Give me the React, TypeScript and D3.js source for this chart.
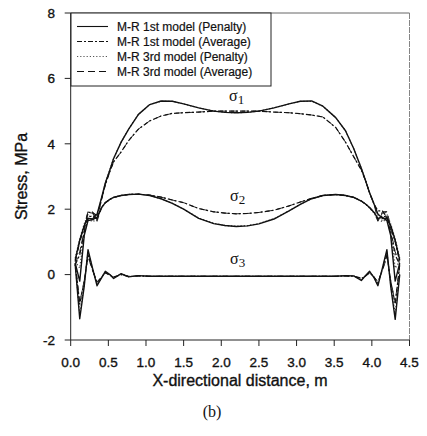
import React from 'react';
import * as d3 from 'd3';

// node positions along the section (m)
const xs = [0.06, 0.12, 0.18, 0.23, 0.29, 0.35, 0.41, 0.46, 0.52, 0.57, 0.67, 0.77, 0.9, 1.05, 1.2, 1.35, 1.5, 1.7, 1.9, 2.05, 2.2,
  2.35, 2.5, 2.7, 2.9, 3.05, 3.2, 3.35, 3.52, 3.65, 3.76, 3.86, 3.92, 3.97, 4.03, 4.08, 4.14, 4.2, 4.25, 4.31, 4.37];

// sigma 1
const s1Pen1 = [0.45, 1.05, 1.5, 1.72, 1.7, 1.85, 2.35, 2.8, 3.2, 3.55, 4.05, 4.45, 4.9, 5.2, 5.31, 5.3, 5.22, 5.1, 5.0, 4.96, 4.95,
  4.96, 5.0, 5.1, 5.22, 5.3, 5.31, 5.15, 4.8, 4.4, 3.85, 3.25, 2.85, 2.5, 2.15, 1.85, 1.72, 1.72, 1.5, 1.05, 0.45];
const s1Avg1 = [0.4, 1.0, 1.45, 1.9, 1.9, 1.8, 2.3, 2.75, 3.15, 3.45, 3.75, 4.1, 4.45, 4.7, 4.85, 4.93, 4.95, 4.97, 5.0, 5.0, 5.0,
  5.0, 5.0, 4.97, 4.95, 4.92, 4.88, 4.82, 4.5, 4.05, 3.6, 3.2, 2.85, 2.5, 2.15, 1.95, 1.95, 1.75, 1.45, 1.0, 0.4];
const s1Pen3 = [0.5, 1.1, 1.55, 1.85, 1.65, 1.82, 2.33, 2.8, 3.2, 3.55, 4.05, 4.45, 4.9, 5.2, 5.3, 5.3, 5.22, 5.1, 5.0, 4.96, 4.95,
  4.96, 5.0, 5.1, 5.22, 5.3, 5.3, 5.15, 4.8, 4.4, 3.85, 3.25, 2.85, 2.5, 2.15, 1.82, 1.65, 1.85, 1.55, 1.1, 0.5];
const s1Avg3 = [0.42, 1.02, 1.5, 1.93, 1.92, 1.65, 2.3, 2.75, 3.15, 3.45, 3.75, 4.1, 4.45, 4.7, 4.85, 4.93, 4.95, 4.97, 5.0, 5.0, 5.0,
  5.0, 5.0, 4.97, 4.95, 4.92, 4.88, 4.82, 4.5, 4.05, 3.6, 3.2, 2.85, 2.5, 2.15, 1.65, 1.92, 1.93, 1.5, 1.02, 0.42];

// sigma 2
const s2Pen1 = [0.35, -0.2, 1.2, 1.65, 1.68, 1.75, 2.05, 2.2, 2.3, 2.36, 2.42, 2.45, 2.46, 2.42, 2.32, 2.18, 2.0, 1.72, 1.56, 1.5, 1.47,
  1.49, 1.55, 1.7, 1.95, 2.15, 2.32, 2.42, 2.45, 2.42, 2.36, 2.25, 2.15, 2.05, 1.9, 1.72, 1.75, 1.65, 1.2, -0.2, 0.35];
const s2Avg1 = [0.3, 0.6, 1.3, 1.75, 1.8, 1.7, 2.05, 2.2, 2.3, 2.36, 2.42, 2.45, 2.46, 2.43, 2.37, 2.28, 2.2, 2.02, 1.92, 1.88, 1.86,
  1.87, 1.9, 1.97, 2.1, 2.22, 2.33, 2.42, 2.45, 2.42, 2.36, 2.25, 2.15, 2.05, 1.9, 1.7, 1.8, 1.75, 1.3, 0.6, 0.3];
const s2Pen3 = [0.4, 0.2, 1.25, 1.7, 1.62, 1.68, 2.03, 2.2, 2.3, 2.36, 2.42, 2.45, 2.46, 2.42, 2.32, 2.18, 2.0, 1.73, 1.57, 1.5, 1.48,
  1.5, 1.56, 1.71, 1.95, 2.15, 2.32, 2.42, 2.45, 2.42, 2.36, 2.25, 2.15, 2.03, 1.88, 1.68, 1.62, 1.7, 1.25, 0.2, 0.4];
const s2Avg3 = [0.32, 0.7, 1.35, 1.9, 1.88, 1.63, 2.05, 2.2, 2.3, 2.36, 2.42, 2.45, 2.46, 2.43, 2.37, 2.28, 2.2, 2.02, 1.92, 1.88, 1.86,
  1.87, 1.9, 1.97, 2.1, 2.22, 2.33, 2.42, 2.45, 2.42, 2.36, 2.25, 2.15, 2.05, 1.9, 1.63, 1.88, 1.9, 1.35, 0.7, 0.32];

// sigma 3
const s3Pen1 = [0.3, -1.35, -0.35, 0.76, 0.2, -0.34, -0.1, 0.1, 0.0, -0.12, 0.03, -0.07, -0.03, -0.05, -0.05, -0.05, -0.05, -0.05, -0.05, -0.05, -0.05,
  -0.05, -0.05, -0.05, -0.05, -0.05, -0.05, -0.05, -0.05, -0.03, -0.04, -0.18, -0.02, 0.1, -0.1, -0.34, 0.2, 0.76, -0.35, -1.37, 0.0];
const s3Avg1 = [0.35, -0.9, -0.2, 0.6, 0.15, -0.25, -0.08, 0.06, -0.02, -0.08, 0.0, -0.06, -0.04, -0.05, -0.05, -0.05, -0.05, -0.05, -0.05, -0.05, -0.05,
  -0.05, -0.05, -0.05, -0.05, -0.05, -0.05, -0.05, -0.05, -0.04, -0.05, -0.12, -0.04, 0.06, -0.08, -0.25, 0.15, 0.6, -0.2, -0.9, 0.3];
const s3Pen3 = [0.3, -1.2, -0.3, 0.7, 0.18, -0.3, -0.08, 0.08, 0.0, -0.1, 0.02, -0.06, -0.04, -0.05, -0.05, -0.05, -0.05, -0.05, -0.05, -0.05, -0.05,
  -0.05, -0.05, -0.05, -0.05, -0.05, -0.05, -0.05, -0.05, -0.04, -0.05, -0.15, -0.03, 0.08, -0.08, -0.3, 0.18, 0.7, -0.3, -1.2, 0.05];
const s3Avg3 = [0.33, -0.85, -0.18, 0.55, 0.12, -0.22, -0.07, 0.05, -0.02, -0.07, 0.0, -0.05, -0.04, -0.05, -0.05, -0.05, -0.05, -0.05, -0.05, -0.05, -0.05,
  -0.05, -0.05, -0.05, -0.05, -0.05, -0.05, -0.05, -0.05, -0.04, -0.05, -0.1, -0.04, 0.05, -0.07, -0.22, 0.12, 0.55, -0.18, -0.85, 0.28];

const modelNames = ['M-R 1st model (Penalty)', 'M-R 1st model (Average)', 'M-R 3rd model (Penalty)', 'M-R 3rd model (Average)'];
const modelDash = [null, '5,2,2,2', '1.2,2', '7,4'];
const modelSeries = [
  [s1Pen1, s2Pen1, s3Pen1],
  [s1Avg1, s2Avg1, s3Avg1],
  [s1Pen3, s2Pen3, s3Pen3],
  [s1Avg3, s2Avg3, s3Avg3],
];
// draw the 3rd-model curves underneath the 1st-model ones
const drawOrder = [3, 2, 1, 0];

const xTicks = [0, 0.5, 1.0, 1.5, 2.0, 2.5, 3.0, 3.5, 4.0, 4.5];
const yTicks = [-2, 0, 2, 4, 6, 8];

const W = 427;
const H = 436;
const sans = '"Liberation Sans", Arial, sans-serif';
const serif = '"Liberation Serif", "Times New Roman", serif';
// scanned text looks a bit heavy
const heavy = { stroke: '#111', strokeWidth: 0.35 };

export default function App() {
  const x = d3.scaleLinear().domain([0, 4.5]).range([70.7, 409.5]);
  const y = d3.scaleLinear().domain([-2, 8]).range([340, 13]);

  const line = d3.line<number>()
    .x((_, i) => x(xs[i]))
    .y(d => y(d));

  const [x0, x1] = x.range();
  const [y0, y1] = y.range();

  const lg = { x: 71, y: 13, w: 200, h: 73 };

  return (
    <svg width={W} height={H} style={{ position: 'absolute', left: 0, top: 0, background: '#fff' }}>
      {/* frame */}
      <line x1={x0} x2={x1} y1={y1} y2={y1} stroke="#555" strokeWidth={0.9} />
      <line x1={x1} x2={x1} y1={y1} y2={y0} stroke="#777" strokeWidth={0.9} strokeDasharray="6,1" />
      <line x1={x0} x2={x0} y1={y1} y2={y0} stroke="#222" strokeWidth={1} />
      <line x1={x0} x2={x1} y1={y0} y2={y0} stroke="#222" strokeWidth={1} />

      {/* y axis ticks */}
      {yTicks.map(t => (
        <g key={`y${t}`}>
          <line x1={x0 - 6} x2={x0} y1={y(t)} y2={y(t)} stroke="#222" strokeWidth={1} />
          <text x={55} y={y(t)} dy="0.35em" textAnchor="end" fontFamily={sans} fontSize={13.5} fill="#111" {...heavy}>{t}</text>
        </g>
      ))}
      {/* x axis ticks */}
      {xTicks.map(t => (
        <g key={`x${t}`}>
          <line x1={x(t)} x2={x(t)} y1={y0} y2={y0 + 6} stroke="#222" strokeWidth={1} />
          <text x={x(t)} y={362} dy="0.35em" textAnchor="middle" fontFamily={sans} fontSize={13.5} fill="#111" {...heavy}>{t.toFixed(1)}</text>
        </g>
      ))}

      {/* curves */}
      {drawOrder.map(m => modelSeries[m].map((vals, k) => (
        <path key={`${m}-${k}`} d={line(vals) || ''} fill="none"
          stroke={m === 2 ? '#444' : '#111'} strokeWidth={m === 0 ? 1.4 : m === 3 ? 0.9 : 1.2}
          strokeDasharray={modelDash[m] || undefined} strokeLinejoin="round" />
      )))}

      {/* curve labels */}
      <text x={229} y={101} fontFamily={serif} fontSize={16} fill="#111">σ<tspan fontSize={13} dy={3}>1</tspan></text>
      <text x={230} y={201} fontFamily={serif} fontSize={16} fill="#111">σ<tspan fontSize={13} dy={3}>2</tspan></text>
      <text x={230} y={264} fontFamily={serif} fontSize={16} fill="#111">σ<tspan fontSize={13} dy={3}>3</tspan></text>

      {/* legend */}
      <rect x={lg.x} y={lg.y} width={lg.w} height={lg.h} fill="#fff" stroke="#222" strokeWidth={1} />
      {modelNames.map((name, i) => {
        const ly = 26.5 + i * 15;
        return (
          <g key={name}>
            <line x1={77} x2={108} y1={ly} y2={ly} stroke={i === 2 ? '#555' : '#111'}
              strokeWidth={1.1} strokeDasharray={modelDash[i] || undefined} />
            <text x={117} y={ly} dy="0.35em" fontFamily={sans} fontSize={12} fill="#111" stroke="#111" strokeWidth={0.2}>{name}</text>
          </g>
        );
      })}

      {/* axis titles */}
      <text transform={`translate(27, ${(y0 + y1) / 2}) rotate(-90)`} textAnchor="middle"
        fontFamily={sans} fontSize={16} fill="#111" {...heavy}>Stress, MPa</text>
      <text x={240} y={386} textAnchor="middle" fontFamily={sans} fontSize={16} fill="#111" {...heavy}>X-directional distance, m</text>
      <text x={212} y={417} textAnchor="middle" fontFamily={serif} fontSize={16} fill="#111">(b)</text>
    </svg>
  );
}
